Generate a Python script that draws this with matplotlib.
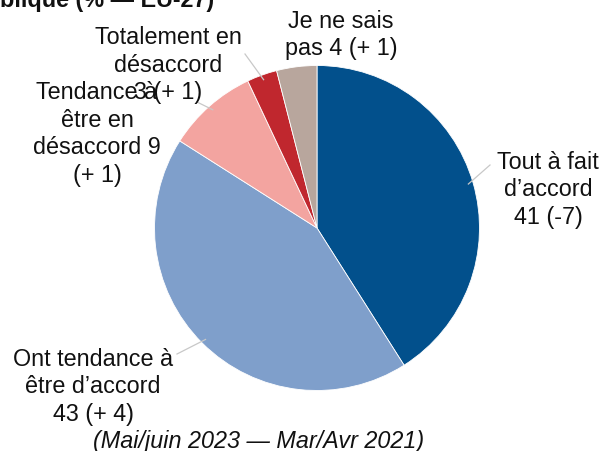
import numpy as np
import matplotlib.pyplot as plt

plt.rcParams['font.family'] = ['Liberation Sans', 'DejaVu Sans']

# Données (% — EU-27), ordre horaire depuis le haut
categories = ["Tout à fait d'accord", "Ont tendance à être d'accord",
              "Tendance à être en désaccord", "Totalement en désaccord",
              "Je ne sais pas"]
valeurs = [41, 43, 9, 3, 4]
etiquettes = ["Tout à fait\nd’accord\n41 (-7)",
              "Ont tendance à\nêtre d’accord\n43 (+ 4)",
              "Tendance à\nêtre en\ndésaccord 9\n(+ 1)",
              "Totalement en\ndésaccord\n3 (+ 1)",
              "Je ne sais\npas 4 (+ 1)"]
couleurs = ['#02508c', '#7f9fcb', '#f3a4a0', '#c0272e', '#b8a69d']

W, H = 603, 452
fig = plt.figure(figsize=(W / 100, H / 100), dpi=100)
ax = fig.add_axes([0, 0, 1, 1])
ax.set_xlim(0, W)
ax.set_ylim(0, H)
ax.set_aspect('equal')
ax.axis('off')

cx, cy, r = 317, H - 229, 162.5
wedges, _ = ax.pie(valeurs, colors=couleurs, startangle=90, counterclock=False,
                   center=(cx, cy), radius=r, frame=True,
                   wedgeprops=dict(edgecolor='white', linewidth=0.6))
ax.set_xlim(0, W)
ax.set_ylim(0, H)
ax.axis('off')

# position des étiquettes (pixels depuis le haut) et départ des traits
pos = [(548, 190), (93, 387), (97, 134), (168, 65), (341, 35)]
depart = [(490, 166), (177, 355), (197, 103), (245, 55), None]

fs = 16.8
for w, lab, (x, y), d in zip(wedges, etiquettes, pos, depart):
    ax.text(x, H - y, lab, ha='center', va='center', fontsize=fs,
            linespacing=1.25, color='#111111', zorder=3)
    if d is not None:
        a = np.deg2rad((w.theta1 + w.theta2) / 2)
        ex, ey = cx + r * 0.97 * np.cos(a), cy + r * 0.97 * np.sin(a)
        ax.plot([d[0], ex], [H - d[1], ey], color='#c8c8c8', lw=0.9, zorder=2)

ax.text(0, H - 7, "blique (% — EU-27)", ha='left', va='baseline',
        fontsize=fs, fontweight='bold', color='#111111')
ax.text(259, H - 442, "(Mai/juin 2023 — Mar/Avr 2021)", ha='center', va='center',
        fontsize=fs, fontstyle='italic', color='#111111')

fig.savefig('out.png', dpi=100)
